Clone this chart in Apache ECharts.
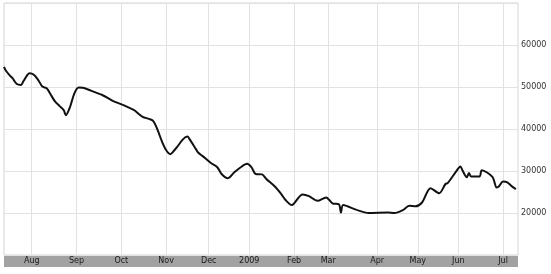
<!DOCTYPE html>
<html>
<head>
<meta charset="utf-8">
<script src="https://cdn.jsdelivr.net/npm/echarts@6/dist/echarts.min.js"></script>
<style>
html,body{margin:0;padding:0;background:#fff;}
#chart{width:551px;height:274px;}
</style>
</head>
<body>
<div id="chart"></div>
<script>
// Month segments of the trading-session axis (first = tail of Jul 2008)
const monthLabels = ['', 'Aug', 'Sep', 'Oct', 'Nov', 'Dec', '2009', 'Feb', 'Mar', 'Apr', 'May', 'Jun', 'Jul'];
const monthSessions = [13, 21, 21, 21, 20, 19, 21, 16, 23, 19, 19, 21, 8];

// Readings: session index and value
const sessionIdx = [0,1,3,4,6,8,9,11,12,14,16,18,20,22,24,26,28,29,31,33,35,37,40,45,46,49,51,56,61,62,65,68,70,72,74,76,78,80,81,84,86,87,90,91,93,97,100,102,105,108,111,114,116,118,121,123,127,130,132,135,136,140,143,147,151,154,157,158,159,165,171,180,183,187,190,193,196,200,204,207,208,212,214,215,217,218,219,223,224,229,231,232,234,236,238,240];
const closeValues = [54800,53800,52600,52100,50700,50500,51300,52900,53300,52900,51700,50100,49700,48100,46500,45500,44500,43300,45300,48500,49900,49800,49300,48300,48100,47300,46700,45700,44500,44100,42900,42400,41900,39800,37100,35000,34000,35000,35600,37600,38200,37600,35200,34400,33600,31900,30900,29300,28300,29700,30900,31700,30900,29300,29200,28100,26300,24500,23100,21900,22300,24400,24000,22900,23700,22300,22100,20100,21900,20800,20000,20100,20000,20700,21700,21600,22500,25900,24700,26900,27100,29900,31100,30100,28500,29500,28700,28700,30200,28600,26100,26300,27500,27300,26400,25700];

// Y ticks
const yMin = 10000, yMax = 70000, yStep = 10000;

const categories = [];
const labelAt = {};
let k = 0;
monthSessions.forEach((n, m) => {
  for (let d = 0; d < n; d++) {
    categories.push('s' + k);
    if (d === 0 && m > 0) labelAt[k] = monthLabels[m];
    k++;
  }
});
const isMonthStart = (i) => labelAt[i] !== undefined;

const chart = echarts.init(document.getElementById('chart'));
chart.setOption({
  animation: false,
  grid: { left: 4, right: 33, top: 3, bottom: 19, show: true, borderColor: '#d4d4d4', borderWidth: 1, backgroundColor: '#fff' },
  xAxis: {
    type: 'category',
    data: categories,
    boundaryGap: false,
    offset: 6,
    axisLine: { show: true, lineStyle: { color: '#a2a2a2', width: 11, cap: 'butt' } },
    axisTick: { show: false },
    axisLabel: {
      interval: (i) => isMonthStart(i),
      formatter: (v, i) => labelAt[i] || '',
      margin: -4,
      fontFamily: 'DejaVu Sans',
      fontSize: 8,
      color: '#1a1a1a'
    },
    splitLine: { show: true, interval: (i) => isMonthStart(i), lineStyle: { color: '#e2e2e2', width: 1 } }
  },
  yAxis: {
    type: 'value',
    position: 'right',
    min: yMin, max: yMax, interval: yStep,
    axisLine: { show: false },
    axisTick: { show: false },
    axisLabel: {
      showMinLabel: false, showMaxLabel: false,
      formatter: (v) => String(v),
      margin: 3,
      fontFamily: 'DejaVu Sans',
      fontSize: 8,
      color: '#333'
    },
    splitLine: { show: true, lineStyle: { color: '#e2e2e2', width: 1 } }
  },
  series: [{
    type: 'line',
    data: sessionIdx.map((s, i) => [s, closeValues[i]]),
    showSymbol: false,
    smooth: 0.3,
    lineStyle: { color: '#111', width: 2 }
  }]
});
</script>
</body>
</html>
